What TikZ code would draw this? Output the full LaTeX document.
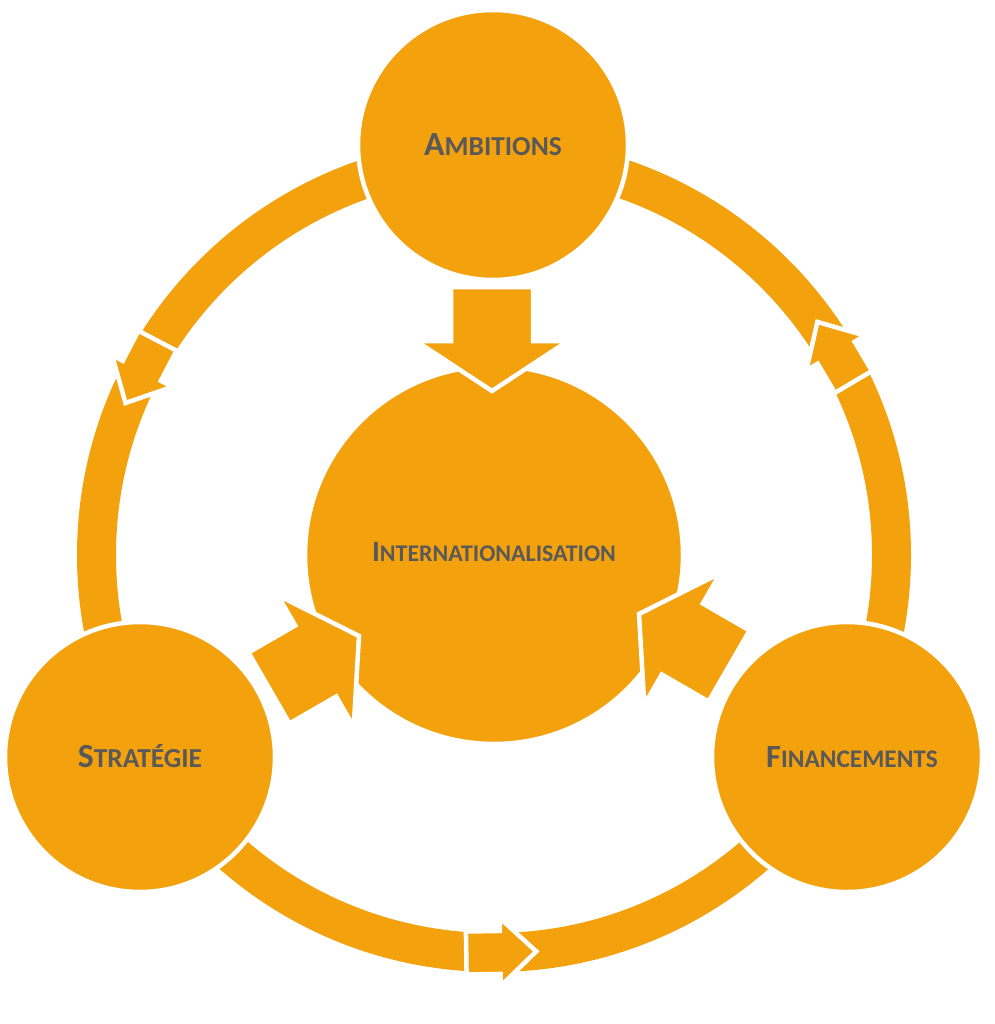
\documentclass[tikz,border=0pt]{standalone}
\usepackage{fontspec}
\setmainfont{Carlito}
\definecolor{cycleorange}{RGB}{244,161,14}
\definecolor{labelgray}{RGB}{89,89,89}
\newcommand{\fakesc}[4]{{\fontsize{#1}{#1}\selectfont #3}{\fontsize{#2}{#2}\selectfont #4}}

\begin{document}
\begin{tikzpicture}[x=0.025cm, y=0.025cm,
  bubble/.style={fill=cycleorange, draw=white, line width=3.2pt},
  blockarrow/.style={fill=cycleorange, draw=white, line width=3.2pt, line join=miter},
  tagtext/.style={text=labelgray, font=\bfseries, inner sep=0pt}]
  \useasboundingbox (0,0) rectangle (994,-1024);
  % outer ring
  \fill[cycleorange, even odd rule] (494,-555) circle (417) (494,-555) circle (378);
  \foreach \a in {152.4,30.6,270.9}
    \draw[blockarrow, shift={(494,-555)}, rotate=\a]
      (376,-34) -- (419,-34) -- (419,0) -- (431,0) -- (397,36) -- (363,0) -- (376,0) -- cycle;
  % circles
  \draw[bubble] (493,-145) circle (135);
  \draw[bubble] (140,-757) circle (135);
  \draw[bubble] (847,-757) circle (135);
  \draw[bubble] (494,-555) circle (189);
  % arrows into the centre
  \foreach \x/\y/\d in {492/-391/-90, 359/-636/30, 639/-614/150}
    \draw[blockarrow, shift={(\x,\y)}, rotate=\d]
      (0,0) -- (-50,76) -- (-50,41) -- (-104,41) -- (-104,-41) -- (-50,-41) -- (-50,-76) -- cycle;
  % labels
  \node[tagtext] (ambitions) at (493,-145) {\fakesc{24}{19.5}{A}{MBITIONS}};
  \node[tagtext] (internationalisation) at (494,-552) {\fakesc{21}{17}{I}{NTERNATIONALISATION}};
  \node[tagtext] (strategie) at (140,-756) {\fakesc{24}{19.5}{S}{TRATÉGIE}};
  \node[tagtext] (financements) at (852,-757) {\fakesc{23}{18}{F}{INANCEMENTS}};
\end{tikzpicture}
\end{document}
